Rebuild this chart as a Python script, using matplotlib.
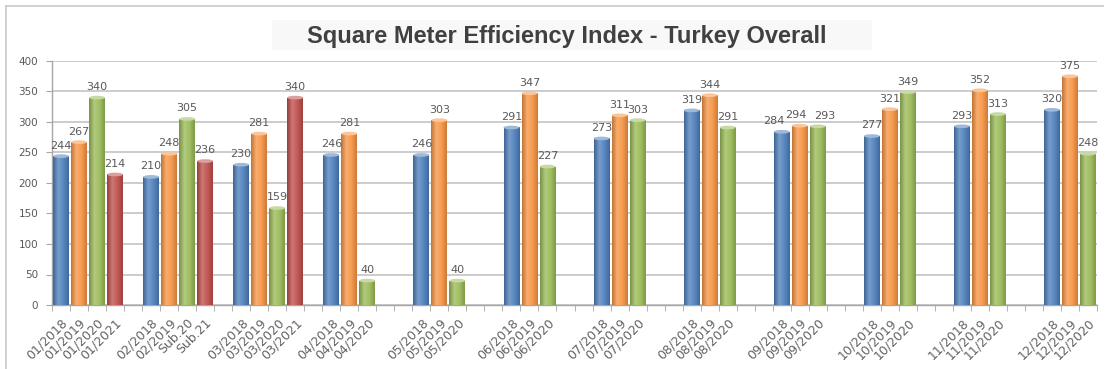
import numpy as np
import matplotlib
matplotlib.use("Agg")
import matplotlib.pyplot as plt
from matplotlib.patches import Rectangle, Ellipse
from matplotlib.lines import Line2D
from matplotlib.colors import LinearSegmentedColormap, to_rgb

title = "Square Meter Efficiency Index - Turkey Overall"

labels_2018 = ['01/2018', '02/2018', '03/2018', '04/2018', '05/2018', '06/2018',
               '07/2018', '08/2018', '09/2018', '10/2018', '11/2018', '12/2018']
labels_2019 = ['01/2019', '02/2019', '03/2019', '04/2019', '05/2019', '06/2019',
               '07/2019', '08/2019', '09/2019', '10/2019', '11/2019', '12/2019']
labels_2020 = ['01/2020', 'Sub.20', '03/2020', '04/2020', '05/2020', '06/2020',
               '07/2020', '08/2020', '09/2020', '10/2020', '11/2020', '12/2020']
labels_2021 = ['01/2021', 'Sub.21', '03/2021']

values_2018 = [244, 210, 230, 246, 246, 291, 273, 319, 284, 277, 293, 320]
values_2019 = [267, 248, 281, 281, 303, 347, 311, 344, 294, 321, 352, 375]
values_2020 = [340, 305, 159, 40, 40, 227, 303, 291, 293, 349, 313, 248]
values_2021 = [214, 236, 340]

y_ticks = [0, 50, 100, 150, 200, 250, 300, 350, 400]

colors = ['#4F81BD', '#F79646', '#9BBB59', '#C0504D']
series = [(labels_2018, values_2018), (labels_2019, values_2019),
          (labels_2020, values_2020), (labels_2021, values_2021)]

# small horizontal nudges (points) of value labels, as in the reference (group 09)
label_nudge = {(0, 8): -6, (1, 8): -3, (2, 8): 5}

W, H = 1107, 369
fig = plt.figure(figsize=(W / 100, H / 100), dpi=100)
fig.patch.set_facecolor('white')

ax_l, ax_r, ax_t, ax_b = 52, 1097, 61, 305
ax = fig.add_axes([ax_l / W, 1 - ax_b / H, (ax_r - ax_l) / W, (ax_b - ax_t) / H])

GROUP = 5
n_slots = 11 * GROUP + 3
bar_w = 0.88
text_col = '#595959'


def shade(c, f):
    r = np.array(to_rgb(c))
    if f >= 0:
        return tuple(r + (1 - r) * f)
    return tuple(r * (1 + f))


tick_pos, tick_lab = [], []
for k, (labs, vals) in enumerate(series):
    xs = [GROUP * g + k for g in range(len(vals))]
    bars = ax.bar(xs, vals, width=bar_w, color=colors[k], zorder=3, linewidth=0)
    cmap = LinearSegmentedColormap.from_list(
        'c%d' % k, [shade(colors[k], -0.22), shade(colors[k], 0.22),
                    shade(colors[k], 0.05), shade(colors[k], -0.18)])
    grad = np.linspace(0, 1, 64).reshape(1, -1)
    for g, (b, v, x, lab) in enumerate(zip(bars, vals, xs, labs)):
        x0 = b.get_x()
        im = ax.imshow(grad, extent=(x0, x0 + bar_w, 0, v), aspect='auto',
                       cmap=cmap, zorder=3.5, origin='lower')
        im.set_clip_path(b)
        ax.add_patch(Ellipse((x, v), bar_w, 6, facecolor=shade(colors[k], 0.45),
                             edgecolor='none', zorder=4))
        ax.annotate(str(v), (x, v), xytext=(label_nudge.get((k, g), 0), 4),
                    textcoords='offset points', ha='center', va='bottom',
                    fontsize=8, color=text_col, family='DejaVu Sans', zorder=5)
        tick_pos.append(x)
        tick_lab.append(lab)

ax.set_xlim(-0.5, n_slots - 0.5)
ax.set_ylim(0, 400)
ax.set_yticks(y_ticks)
ax.set_yticklabels([str(t) for t in y_ticks], fontsize=7.5, color=text_col)
ax.set_xticks(tick_pos)
ax.set_xticklabels(tick_lab, rotation=45, ha='right', rotation_mode='anchor',
                   fontsize=9, color='#636363')
ax.set_xticks(np.arange(-0.5, n_slots, 1), minor=True)
ax.tick_params(axis='x', which='major', length=0, pad=8)
ax.tick_params(axis='x', which='minor', length=4, color='#a6a6a6')
ax.tick_params(axis='y', length=4, color='#a6a6a6', pad=6)

ax.grid(axis='y', color='#bfbfbf', linewidth=1.1, zorder=0)
ax.set_axisbelow(True)
for s in ['top', 'right']:
    ax.spines[s].set_visible(False)
for s in ['left', 'bottom']:
    ax.spines[s].set_color('#a6a6a6')
    ax.spines[s].set_linewidth(1.0)

# title background and title
fig.add_artist(Rectangle((272 / W, 1 - 50 / H), (872 - 272) / W, 30 / H,
                         transform=fig.transFigure, facecolor='#f8f8f8',
                         edgecolor='none', zorder=0))
fig.text(567 / W, 1 - 36 / H, title, ha='center', va='center', fontsize=17,
         fontweight='bold', color='#404040', family='Liberation Sans')

# outer frame (top and left edges visible)
fig.add_artist(Line2D([6 / W, 1103 / W], [1 - 6 / H, 1 - 6 / H],
                      transform=fig.transFigure, color='#c8c8c8', linewidth=1.2))
fig.add_artist(Line2D([6 / W, 6 / W], [1 - 6 / H, 0],
                      transform=fig.transFigure, color='#c8c8c8', linewidth=1.2))

fig.savefig('out.png', dpi=100)
